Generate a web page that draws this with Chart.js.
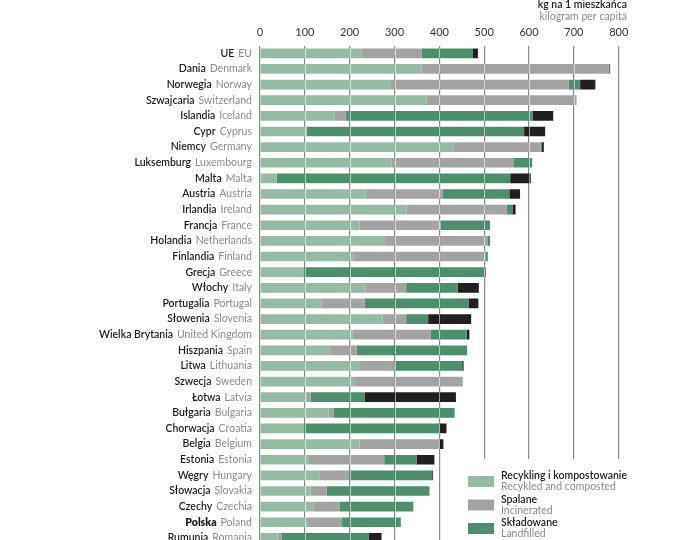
<!DOCTYPE html>
<html>
<head>
<meta charset="utf-8">
<script src="https://cdn.jsdelivr.net/npm/chart.js@4"></script>
<style>
  body { margin: 0; background: #fff; overflow: hidden; }
  #wasteChart { display: block; }
</style>
</head>
<body>
<canvas id="wasteChart" width="690" height="560"></canvas>
<script>
// country names, polish and english
const namesPl = ['UE', 'Dania', 'Norwegia', 'Szwajcaria', 'Islandia', 'Cypr', 'Niemcy', 'Luksemburg', 'Malta', 'Austria',
    'Irlandia', 'Francja', 'Holandia', 'Finlandia', 'Grecja', 'Włochy', 'Portugalia', 'Słowenia', 'Wielka Brytania',
    'Hiszpania', 'Litwa', 'Szwecja', 'Łotwa', 'Bułgaria', 'Chorwacja', 'Belgia', 'Estonia', 'Węgry', 'Słowacja',
    'Czechy', 'Polska', 'Rumunia'];
const namesEn = ['EU', 'Denmark', 'Norway', 'Switzerland', 'Iceland', 'Cyprus', 'Germany', 'Luxembourg', 'Malta', 'Austria',
    'Ireland', 'France', 'Netherlands', 'Finland', 'Greece', 'Italy', 'Portugal', 'Slovenia', 'United Kingdom',
    'Spain', 'Lithuania', 'Sweden', 'Latvia', 'Bulgaria', 'Croatia', 'Belgium', 'Estonia', 'Hungary', 'Slovakia',
    'Czechia', 'Poland', 'Romania'];

// kg per capita
const recycled    = [227, 360, 292, 372, 167, 104, 431, 294, 37, 236, 327, 222, 281, 208, 98, 236, 138, 273, 207, 156, 221, 212, 104, 153, 98, 222, 109, 132, 113, 119, 107, 39];
const incinerated = [133, 418, 396, 334, 25, 0, 195, 271, 0, 171, 223, 181, 226, 296, 0, 90, 96, 53, 174, 60, 80, 239, 9, 12, 0, 176, 168, 65, 36, 58, 76, 10];
const landfilled  = [115, 3, 26, 0, 416, 485, 3, 42, 521, 149, 13, 110, 6, 4, 406, 115, 231, 49, 80, 246, 150, 1, 120, 269, 302, 2, 72, 187, 229, 165, 131, 193];
const other       = [11, 0, 34, 0, 46, 47, 4, 0, 46, 24, 7, 0, 0, 0, 0, 47, 22, 96, 6, 0, 3, 0, 204, 0, 16, 9, 40, 2, 0, 0, 0, 29];

const xTicks = [0, 100, 200, 300, 400, 500, 600, 700, 800];

const legendItems = [
    ['Recykling i kompostowanie', 'Recykled and composted', '#96bba4'],
    ['Spalane', 'Incinerated', '#a3a3a3'],
    ['Składowane', 'Landfilled', '#4d8e6c'],
    ['Inne', 'Other', '#231f20']
];

const FONT = 'Lato, "Open Sans", sans-serif';

// labels, title, legend and the white streaks over bars
const decorPlugin = {
    id: 'decor',
    afterDatasetsDraw(chart) {
        const ctx = chart.ctx;
        const xs = chart.scales.x;
        const meta = chart.getDatasetMeta(0);
        ctx.save();
        ctx.strokeStyle = 'rgba(255,255,255,0.55)';
        ctx.lineWidth = 1;
        meta.data.forEach((bar, i) => {
            const total = recycled[i] + incinerated[i] + landfilled[i] + other[i];
            const h = bar.height / 2;
            xTicks.forEach(v => {
                if (v > 0 && v < total) {
                    const x = Math.round(xs.getPixelForValue(v)) + 0.5;
                    ctx.beginPath();
                    ctx.moveTo(x, bar.y - h);
                    ctx.lineTo(x, bar.y + h);
                    ctx.stroke();
                }
            });
        });
        ctx.restore();
    },
    afterDraw(chart) {
        const ctx = chart.ctx;
        const ys = chart.scales.y;
        ctx.save();
        ctx.textBaseline = 'middle';

        // country labels
        namesPl.forEach((pl, i) => {
            const y = ys.getPixelForValue(i);
            let x = 252;
            ctx.font = '10.5px ' + FONT;
            ctx.fillStyle = '#8a8a8a';
            ctx.textAlign = 'right';
            ctx.fillText(namesEn[i], x, y);
            x -= ctx.measureText(namesEn[i]).width + 4;
            ctx.font = (pl === 'Polska' ? '800 ' : '600 ') + '10.5px ' + FONT;
            ctx.fillStyle = '#1e1b1c';
            ctx.fillText(pl, x, y);
        });

        // unit title
        ctx.textAlign = 'right';
        ctx.font = '600 10.5px ' + FONT;
        ctx.fillStyle = '#1e1b1c';
        ctx.fillText('kg na 1 mieszkańca', 627, 5);
        ctx.font = '10.5px ' + FONT;
        ctx.fillStyle = '#8a8a8a';
        ctx.fillText('kilogram per capita', 627, 17);

        // legend box covers the grid lines
        ctx.fillStyle = '#fff';
        ctx.fillRect(462, 459, 228, 101);
        ctx.textAlign = 'left';
        legendItems.forEach((item, i) => {
            const top = 476 + i * 23.5;
            ctx.fillStyle = item[2];
            ctx.fillRect(468, top, 26, 11);
            ctx.font = '600 10.5px ' + FONT;
            ctx.fillStyle = '#1e1b1c';
            ctx.fillText(item[0], 501, top);
            ctx.font = '10.5px ' + FONT;
            ctx.fillStyle = '#8a8a8a';
            ctx.fillText(item[1], 501, top + 11);
        });
        ctx.restore();
    }
};

const ctx = document.getElementById('wasteChart').getContext('2d');
new Chart(ctx, {
    type: 'bar',
    data: {
        labels: namesPl,
        datasets: [
            { label: 'Recykling i kompostowanie', data: recycled, backgroundColor: legendItems[0][2] },
            { label: 'Spalane', data: incinerated, backgroundColor: legendItems[1][2] },
            { label: 'Składowane', data: landfilled, backgroundColor: legendItems[2][2] },
            { label: 'Inne', data: other, backgroundColor: legendItems[3][2] }
        ]
    },
    options: {
        indexAxis: 'y',
        responsive: false,
        animation: false,
        layout: { padding: { left: 260, right: 71.3, top: 25.5, bottom: 14.3 } },
        datasets: { bar: { categoryPercentage: 1, barPercentage: 0.62, borderWidth: 0 } },
        plugins: { legend: { display: false }, tooltip: { enabled: false } },
        scales: {
            x: {
                position: 'top',
                stacked: true,
                min: 0,
                max: 800,
                afterBuildTicks(scale) { scale.ticks = xTicks.map(v => ({ value: v })); },
                afterFit(scale) { scale.height = 20; },
                grid: { color: '#8a8a8a', lineWidth: 1.2, drawTicks: false },
                border: { display: false },
                ticks: { color: '#333', padding: 6, font: { family: FONT, size: 11 } }
            },
            y: {
                stacked: true,
                display: false
            }
        }
    },
    plugins: [decorPlugin]
});
</script>
</body>
</html>
